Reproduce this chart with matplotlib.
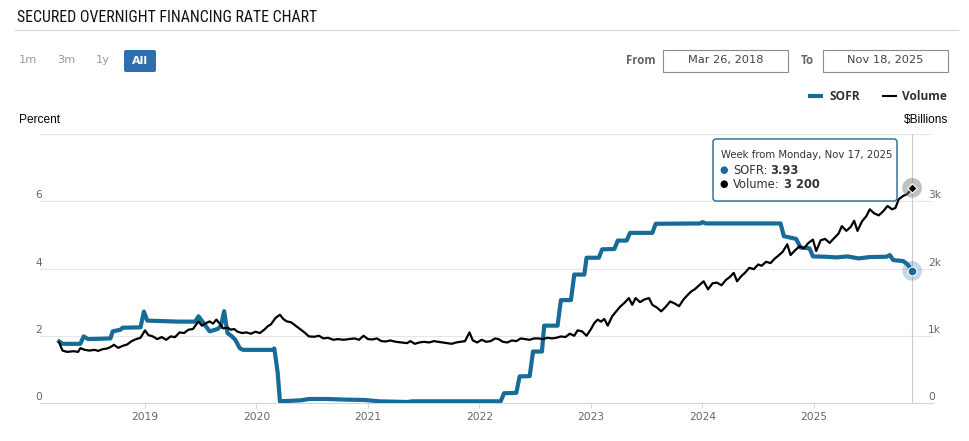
import matplotlib
matplotlib.use("Agg")
import matplotlib.pyplot as plt
from matplotlib import font_manager
from matplotlib.patches import FancyBboxPatch, Rectangle
from matplotlib.lines import Line2D
from matplotlib.transforms import IdentityTransform

# ---------------- data ----------------
sofr_t = [2018.23, 2018.26, 2018.42, 2018.45, 2018.49, 2018.69, 2018.71, 2018.78, 2018.80, 2018.96,
          2018.99, 2019.02, 2019.30, 2019.45, 2019.48, 2019.52, 2019.58, 2019.65, 2019.68, 2019.71,
          2019.74, 2019.78, 2019.81, 2019.85, 2019.88, 2020.14, 2020.16, 2020.19, 2020.21, 2020.40,
          2020.47, 2020.63, 2020.80, 2020.97, 2021.10, 2021.35, 2021.40, 2022.19, 2022.22, 2022.33,
          2022.36, 2022.45, 2022.48, 2022.56, 2022.58, 2022.70, 2022.73, 2022.82, 2022.85, 2022.94,
          2022.96, 2023.07, 2023.10, 2023.21, 2023.24, 2023.32, 2023.35, 2023.55, 2023.58, 2023.98,
          2024.00, 2024.03, 2024.70, 2024.73, 2024.84, 2024.88, 2024.96, 2024.99, 2025.10, 2025.20,
          2025.30, 2025.40, 2025.50, 2025.65, 2025.68, 2025.71, 2025.80, 2025.84, 2025.88]
sofr_v = [1.83, 1.76, 1.76, 1.98, 1.90, 1.92, 2.13, 2.18, 2.24, 2.25,
          2.72, 2.45, 2.42, 2.42, 2.58, 2.40, 2.13, 2.20, 2.28, 2.73,
          2.08, 1.98, 1.88, 1.63, 1.58, 1.58, 1.62, 0.90, 0.05, 0.08,
          0.12, 0.12, 0.10, 0.09, 0.05, 0.03, 0.05, 0.05, 0.29, 0.30,
          0.79, 0.80, 1.53, 1.53, 2.30, 2.30, 3.06, 3.06, 3.82, 3.82,
          4.32, 4.32, 4.57, 4.58, 4.83, 4.83, 5.06, 5.06, 5.33, 5.34,
          5.38, 5.34, 5.34, 4.96, 4.88, 4.62, 4.60, 4.36, 4.35, 4.33,
          4.36, 4.30, 4.34, 4.35, 4.40, 4.25, 4.22, 4.12, 3.93]

vol_t = [2018.23, 2018.26, 2018.30, 2018.36, 2018.40, 2018.42, 2018.46, 2018.50, 2018.55, 2018.58,
         2018.62, 2018.66, 2018.70, 2018.72, 2018.76, 2018.80, 2018.84, 2018.88, 2018.92, 2018.96,
         2019.00, 2019.03, 2019.07, 2019.11, 2019.15, 2019.19, 2019.23, 2019.27, 2019.31, 2019.35,
         2019.39, 2019.43, 2019.46, 2019.48, 2019.51, 2019.55, 2019.58, 2019.61, 2019.64, 2019.67,
         2019.70, 2019.74, 2019.77, 2019.80, 2019.83, 2019.87, 2019.91, 2019.95, 2019.99, 2020.03,
         2020.07, 2020.10, 2020.13, 2020.17, 2020.21, 2020.24, 2020.27, 2020.31, 2020.35, 2020.39,
         2020.43, 2020.47, 2020.52, 2020.56, 2020.60, 2020.64, 2020.69, 2020.73, 2020.78, 2020.83,
         2020.88, 2020.92, 2020.96, 2021.00, 2021.04, 2021.08, 2021.12, 2021.16, 2021.20, 2021.25,
         2021.30, 2021.35, 2021.38, 2021.42, 2021.46, 2021.50, 2021.55, 2021.59, 2021.63, 2021.67,
         2021.71, 2021.75, 2021.79, 2021.83, 2021.87, 2021.91, 2021.94, 2021.98, 2022.02, 2022.06,
         2022.10, 2022.14, 2022.17, 2022.21, 2022.25, 2022.29, 2022.33, 2022.37, 2022.41, 2022.45,
         2022.49, 2022.53, 2022.57, 2022.61, 2022.65, 2022.69, 2022.73, 2022.77, 2022.81, 2022.85,
         2022.88, 2022.92, 2022.96, 2023.00, 2023.03, 2023.06, 2023.09, 2023.12, 2023.15, 2023.19,
         2023.22, 2023.26, 2023.30, 2023.34, 2023.37, 2023.40, 2023.44, 2023.48, 2023.52, 2023.55,
         2023.59, 2023.63, 2023.67, 2023.71, 2023.75, 2023.79, 2023.83, 2023.87, 2023.90, 2023.93,
         2023.97, 2024.01, 2024.05, 2024.09, 2024.13, 2024.17, 2024.21, 2024.25, 2024.28, 2024.31,
         2024.35, 2024.38, 2024.42, 2024.46, 2024.50, 2024.53, 2024.57, 2024.61, 2024.65, 2024.68,
         2024.72, 2024.76, 2024.79, 2024.83, 2024.87, 2024.91, 2024.95, 2024.99, 2025.02, 2025.06,
         2025.10, 2025.14, 2025.18, 2025.22, 2025.25, 2025.29, 2025.33, 2025.36, 2025.39, 2025.43,
         2025.47, 2025.50, 2025.54, 2025.58, 2025.62, 2025.66, 2025.70, 2025.73, 2025.76, 2025.80,
         2025.83, 2025.86, 2025.88]
vol_v = [900, 780, 760, 770, 760, 816, 790, 780, 790, 775,
         800, 810, 840, 866, 820, 850, 870, 920, 950, 970,
         1080, 1010, 990, 950, 980, 940, 990, 980, 1050, 1040,
         1090, 1100, 1170, 1213, 1150, 1190, 1213, 1180, 1240, 1180,
         1110, 1120, 1090, 1100, 1060, 1040, 1050, 1030, 1060, 1040,
         1090, 1140, 1170, 1264, 1313, 1250, 1214, 1200, 1150, 1100,
         1050, 990, 985, 1000, 960, 970, 940, 950, 940, 950,
         960, 940, 1000, 950, 945, 960, 920, 915, 930, 910,
         900, 890, 920, 880, 900, 910, 900, 920, 910, 900,
         890, 880, 900, 910, 920, 1050, 930, 900, 940, 910,
         920, 960, 950, 910, 900, 930, 920, 960, 950, 940,
         960, 960, 950, 970, 960, 970, 990, 980, 1030, 1000,
         1080, 1065, 1000, 1100, 1190, 1240, 1210, 1250, 1150, 1290,
         1350, 1430, 1490, 1560, 1460, 1560, 1500, 1540, 1560, 1460,
         1420, 1363, 1430, 1510, 1480, 1440, 1540, 1612, 1660, 1690,
         1750, 1810, 1690, 1780, 1790, 1750, 1830, 1880, 1935, 1810,
         1890, 1935, 2010, 1990, 2060, 2040, 2100, 2080, 2150, 2190,
         2250, 2360, 2200, 2270, 2330, 2300, 2380, 2430, 2260, 2420,
         2440, 2380, 2450, 2520, 2630, 2560, 2620, 2710, 2560, 2700,
         2780, 2880, 2820, 2790, 2850, 2930, 2880, 2900, 3030, 3080,
         3100, 3150, 3200]

year_ticks = [2019, 2020, 2021, 2022, 2023, 2024, 2025]
left_ticks = [0, 2, 4, 6]
right_ticks = [0, 1000, 2000, 3000]
right_labels = ["0", "1k", "2k", "3k"]
range_buttons = ["1m", "3m", "1y", "All"]
date_from = "Mar 26, 2018"
date_to = "Nov 18, 2025"
tooltip_title = "Week from Monday, Nov 17, 2025"
tooltip_sofr = "3.93"
tooltip_vol = "3 200"

# ---------------- fonts ----------------
avail = {f.name for f in font_manager.fontManager.ttflist}
def pick(*names):
    for n in names:
        if n in avail:
            return n
    return "DejaVu Sans"
TITLE_FONT = pick("Roboto Condensed", "Liberation Sans Narrow", "Open Sans Condensed", "Liberation Sans")
ARIAL = pick("Liberation Sans", "DejaVu Sans")
OPEN = pick("Open Sans", "DejaVu Sans")
VERD = "DejaVu Sans"

SOFR_C = "#176b98"
W, H = 969, 441
fig = plt.figure(figsize=(W / 100, H / 100), dpi=100)

def fx(x):
    return x / W
def fy(y):
    return 1 - y / H

# ---------------- header ----------------
title_size = 11.4 if TITLE_FONT in ("Roboto Condensed", "Liberation Sans Narrow", "Open Sans Condensed") else 9.0
fig.text(fx(17), fy(18), "SECURED OVERNIGHT FINANCING RATE CHART", family=TITLE_FONT,
         fontsize=title_size, color="#111111", ha="left", va="center")
fig.add_artist(Line2D([fx(15), fx(958)], [fy(29.5), fy(29.5)], color="#d8d8d8", lw=0.8))

btn_x = [28, 66, 103]
for lab, x in zip(range_buttons[:3], btn_x):
    fig.text(fx(x), fy(60), lab, family=VERD, fontsize=8.2, color="#9a9a9a", ha="center", va="center")
fig.add_artist(FancyBboxPatch((124, H - 72), 32, 22, boxstyle="round,pad=0,rounding_size=2",
                              transform=IdentityTransform(), facecolor="#2e6fb0", edgecolor="none"))
fig.text(fx(140), fy(60.5), range_buttons[3], family=VERD, fontsize=8, fontweight="bold",
         color="white", ha="center", va="center")

fig.text(fx(641), fy(60), "From", family=OPEN, fontsize=8.3, fontweight="bold", color="#666666",
         ha="center", va="center")
fig.text(fx(807), fy(60), "To", family=OPEN, fontsize=8.3, fontweight="bold", color="#666666",
         ha="center", va="center")
for (x0, x1), txt in zip([(663, 788), (823, 948)], [date_from, date_to]):
    fig.add_artist(Rectangle((x0, H - 72), x1 - x0, 22, transform=IdentityTransform(),
                             facecolor="white", edgecolor="#8c8c8c", lw=0.8))
    fig.text(fx((x0 + x1) / 2), fy(60.5), txt, family=VERD, fontsize=8.2, color="#444444",
             ha="center", va="center")

# legend
fig.add_artist(Line2D([fx(808), fx(823)], [fy(96), fy(96)], color=SOFR_C, lw=3.0, solid_capstyle="butt"))
fig.text(fx(829), fy(96), "SOFR", family=OPEN, fontsize=8.6, fontweight="bold", color="#333333",
         ha="left", va="center")
fig.add_artist(Line2D([fx(882), fx(897)], [fy(96), fy(96)], color="black", lw=1.5, solid_capstyle="butt"))
fig.text(fx(902), fy(96), "Volume", family=OPEN, fontsize=8.6, fontweight="bold", color="#333333",
         ha="left", va="center")

fig.text(fx(19), fy(120), "Percent", family=ARIAL, fontsize=8.6, color="black", ha="left", va="center")
fig.text(fx(948), fy(120), "$Billions", family=ARIAL, fontsize=8.6, color="black", ha="right", va="center")

# ---------------- axes ----------------
L, R, T, B = 40, 933, 134, 403
ax = fig.add_axes([fx(L), fy(B), (R - L) / W, (B - T) / H])
ax2 = ax.twinx()
px_per_year = 111.5
x_left = 2019 + (L - 145) / px_per_year
x_right = 2019 + (R - 145) / px_per_year
for a in (ax, ax2):
    a.set_xlim(x_left, x_right)
    for s in a.spines.values():
        s.set_visible(False)
    a.set_yticks([])
ax.set_ylim(0, 8)
ax2.set_ylim(0, 4000)
ax.patch.set_alpha(0)

for v in [2, 4, 6, 8]:
    ax.axhline(v, color="#e6e6e6", lw=0.8, zorder=0)
ax.spines["bottom"].set_visible(True)
ax.spines["bottom"].set_color("#ccd6eb")
ax.spines["bottom"].set_linewidth(0.8)

ax.set_xticks(year_ticks)
ax.set_xticklabels([str(y) for y in year_ticks], family=VERD, fontsize=7.7, color="#666666")
ax.tick_params(axis="x", direction="out", length=3.6, width=0.7, color="#ccd6eb", pad=3)
ax2.tick_params(axis="x", which="both", length=0, labelbottom=False)

ytr = ax.get_yaxis_transform()
for v in left_ticks:
    ax.annotate(str(v), xy=(0, v), xycoords=ytr, xytext=(-1, 6), textcoords="offset pixels",
                ha="center", va="center", family=VERD, fontsize=7.7, color="#666666", annotation_clip=False)
ytr2 = ax2.get_yaxis_transform()
for v, lab in zip(right_ticks, right_labels):
    ax2.annotate(lab, xy=(1, v), xycoords=ytr2, xytext=(-5, 6), textcoords="offset pixels",
                 ha="left", va="center", family=VERD, fontsize=7.7, color="#666666", annotation_clip=False)

# crosshair
ax.axvline(sofr_t[-1], color="#cccccc", lw=0.8, zorder=1)

ax.plot(sofr_t, sofr_v, color=SOFR_C, lw=3.0, solid_joinstyle="round", zorder=3)
ax2.plot(vol_t, vol_v, color="black", lw=1.6, solid_joinstyle="round", zorder=3)

# hover markers
ax.scatter([sofr_t[-1]], [sofr_v[-1]], s=200, color=SOFR_C, alpha=0.25, edgecolors="none", zorder=4)
ax.scatter([sofr_t[-1]], [sofr_v[-1]], s=40, color=SOFR_C, edgecolors="white", linewidths=0.8, zorder=5)
ax2.scatter([vol_t[-1]], [vol_v[-1]], s=200, color="#777777", alpha=0.45, edgecolors="none", zorder=4)
ax2.scatter([vol_t[-1]], [vol_v[-1]], s=22, color="black", marker="D", edgecolors="white",
            linewidths=0.8, zorder=5)

# ---------------- tooltip ----------------
fig.add_artist(FancyBboxPatch((713, H - 201), 184, 62, boxstyle="round,pad=0,rounding_size=3",
                              transform=IdentityTransform(), facecolor="white", edgecolor="#1f6a8f",
                              lw=1.0, zorder=5))
fig.text(fx(721), fy(155), tooltip_title, family=VERD, fontsize=7.3, color="#333333",
         ha="left", va="center", zorder=6)
fig.text(fx(724), fy(170), "\u25cf", family=VERD, fontsize=7, color=SOFR_C, ha="center", va="center", zorder=6)
fig.text(fx(733), fy(170), "SOFR:", family=VERD, fontsize=8.3, color="#333333", ha="left", va="center", zorder=6)
fig.text(fx(770), fy(170), tooltip_sofr, family=VERD, fontsize=8.3, fontweight="bold", color="#333333",
         ha="left", va="center", zorder=6)
fig.text(fx(724), fy(184), "\u25cf", family=VERD, fontsize=7, color="black", ha="center", va="center", zorder=6)
fig.text(fx(733), fy(184), "Volume:", family=VERD, fontsize=8.3, color="#333333", ha="left", va="center", zorder=6)
fig.text(fx(784), fy(184), tooltip_vol, family=VERD, fontsize=8.3, fontweight="bold", color="#333333",
         ha="left", va="center", zorder=6)

fig.savefig("out.png", dpi=100, facecolor="white")
